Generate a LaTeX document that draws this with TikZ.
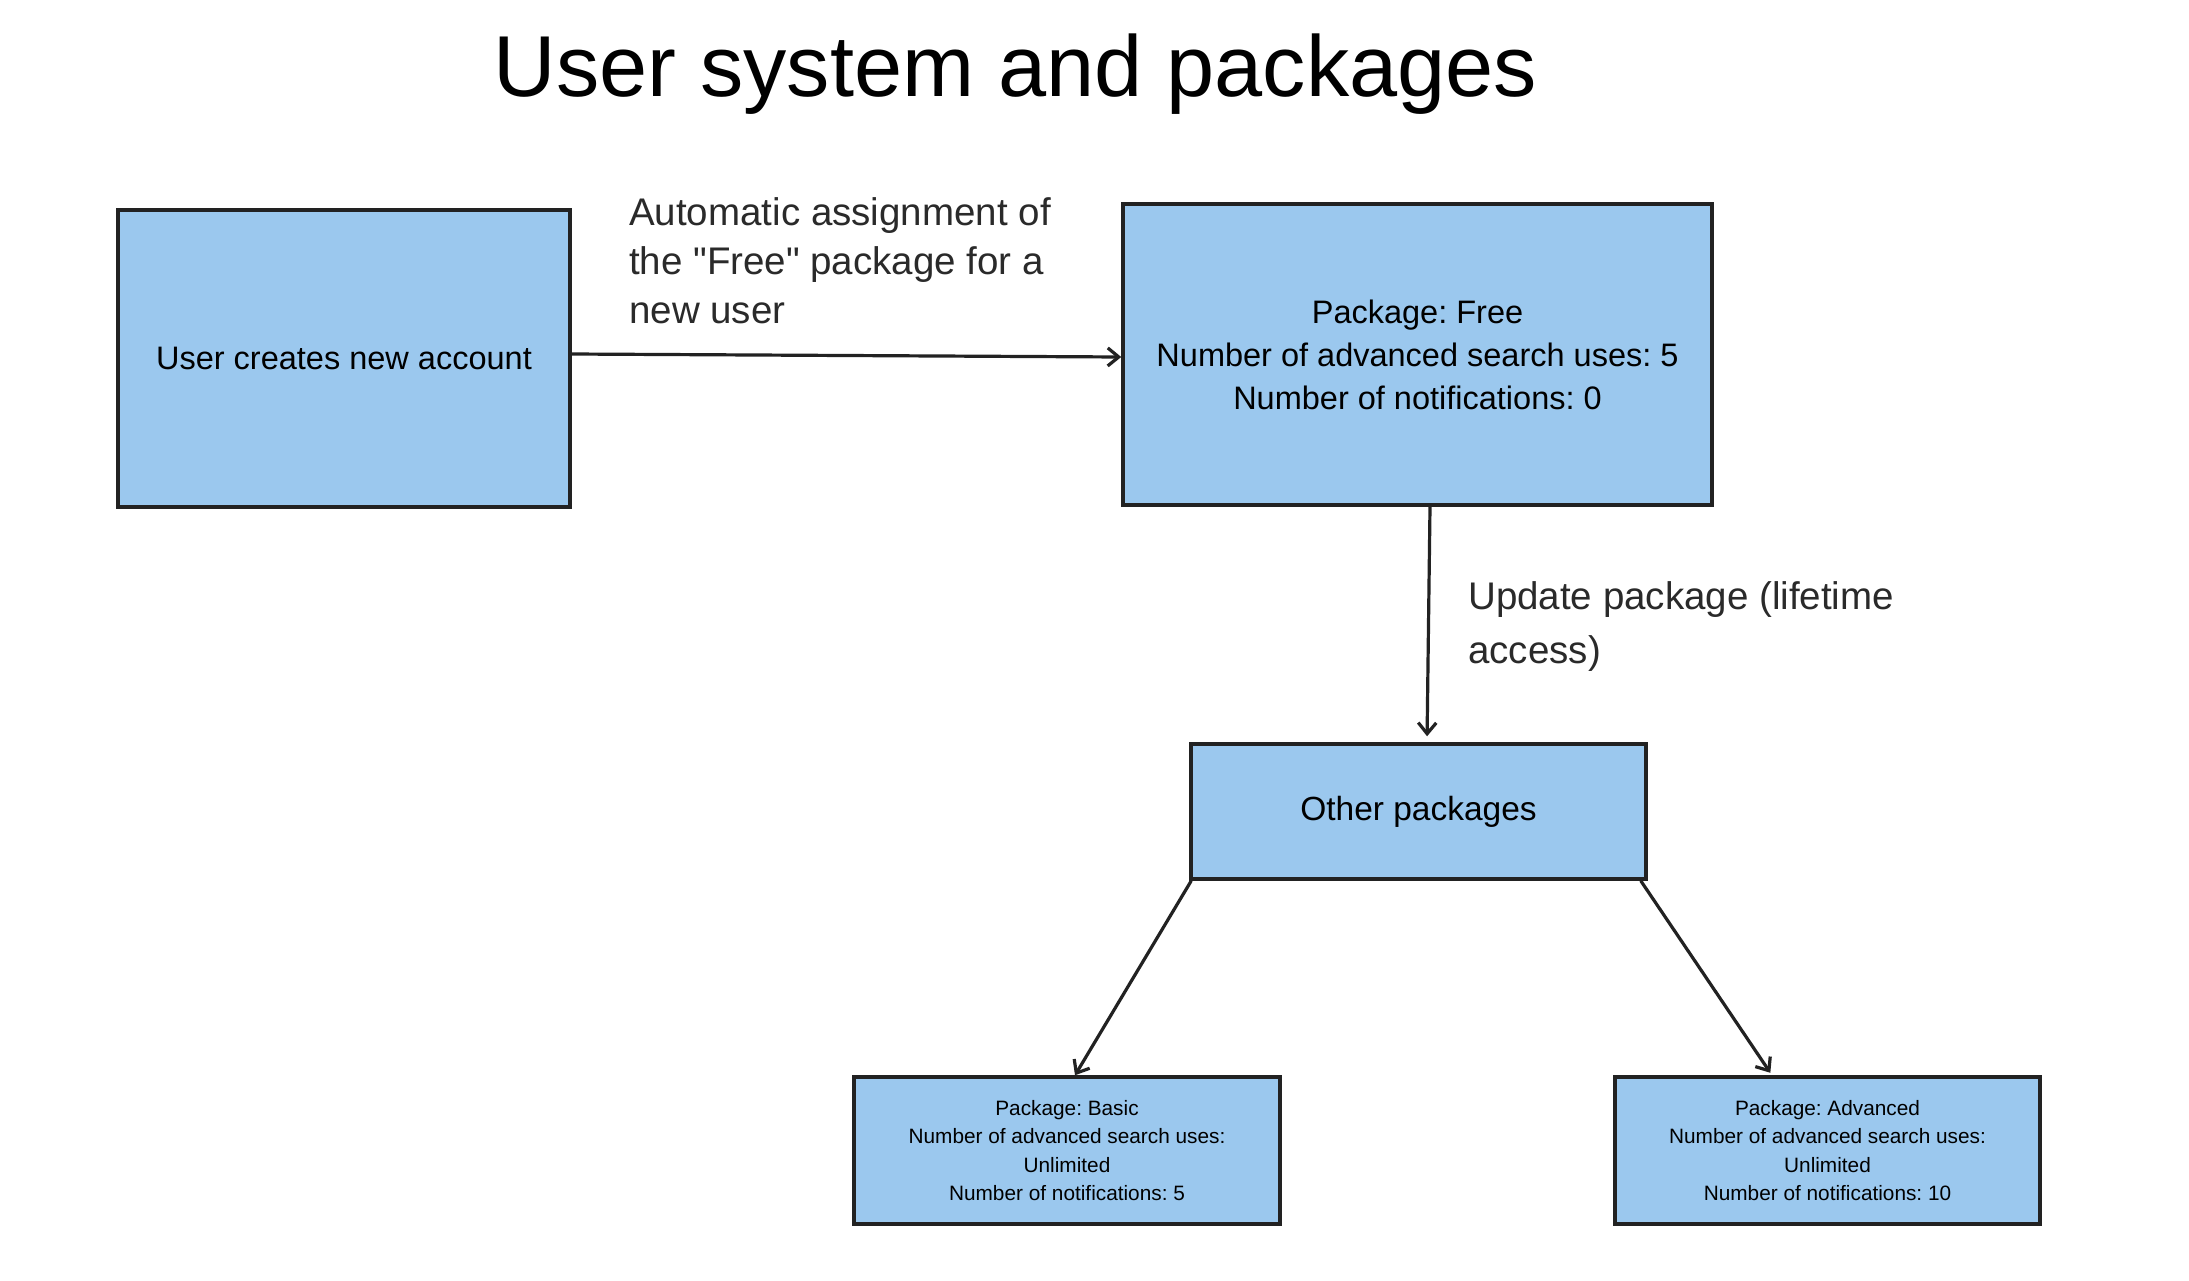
\documentclass[tikz,border=0pt]{standalone}
\usepackage{fontspec}
\setmainfont{Liberation Sans}[Ligatures=TeXOff]
\usetikzlibrary{arrows.meta}
\definecolor{boxfill}{HTML}{9BC8EE}
\definecolor{boxline}{HTML}{222222}
\definecolor{lbl}{HTML}{2A2A2A}
\frenchspacing
\tikzset{
  box/.style={draw=boxline, fill=boxfill, line width=3.5pt, rectangle, inner sep=0pt, align=center, text=black},
  bigtext/.style={font=\fontsize{32.5}{43}\selectfont},
  smalltext/.style={font=\fontsize{20.8}{28.5}\selectfont},
  arr/.style={draw=boxline, line width=3.2pt, -{Straight Barb[length=11pt,width=18pt,line width=3.2pt]}},
  edgelbl/.style={anchor=west, inner sep=0pt, align=left, text=lbl, font=\fontsize{38.5}{49}\selectfont}
}
\begin{document}
\begin{tikzpicture}[x=1pt,y=-1pt]
\useasboundingbox[fill=white] (0,0) rectangle (2189,1280);
\node[anchor=base, inner sep=0pt, font=\fontsize{86.5}{100}\selectfont] (title) at (1015.5,96) {User system and packages};
\node[box, bigtext, minimum width=452pt, minimum height=297pt] (acct) at (344,358.5) {User creates new account};
\node[box, bigtext, minimum width=589pt, minimum height=301pt] (free) at (1417.5,354.5) {Package: Free\\Number of advanced search uses: 5\\Number of notifications: 0};
\node[box, font=\fontsize{33.5}{40}\selectfont, minimum width=455pt, minimum height=135pt] (other) at (1418.5,811.5) {Other packages};
\node[box, smalltext, minimum width=426pt, minimum height=147pt] (basic) at (1067,1150.5) {Package: Basic\\Number of advanced search uses:\\Unlimited\\Number of notifications: 5};
\node[box, smalltext, minimum width=425pt, minimum height=147pt] (adv) at (1827.5,1150.5) {Package: Advanced\\Number of advanced search uses:\\Unlimited\\Number of notifications: 10};
\draw[arr] ([yshift=4.5pt]acct.east) -- ([yshift=-2.5pt]free.west);
\draw[arr, shorten >=6pt] ([xshift=12.5pt]free.south) -- ([xshift=8.5pt]other.north);
\draw[arr] ([xshift=2pt]other.south west) -- ([xshift=8pt]basic.north);
\draw[arr, shorten >=3pt] ([xshift=-7pt]other.south east) -- ([xshift=-55.5pt]adv.north);
\node[edgelbl] (lblA) at (629,261) {Automatic assignment of\\the "Free" package for a\\new user};
\node[edgelbl, font=\fontsize{38.5}{54}\selectfont] (lblB) at (1468,627) {Update package (lifetime\\access)};
\end{tikzpicture}
\end{document}
